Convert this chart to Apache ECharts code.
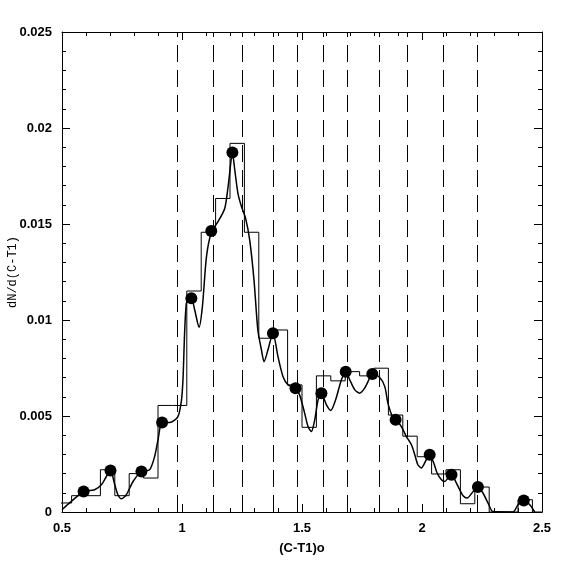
<!DOCTYPE html>
<html>
<head>
<meta charset="utf-8">
<script src="https://cdn.jsdelivr.net/npm/echarts@6/dist/echarts.min.js"></script>
<style>
  html, body { margin: 0; padding: 0; background: #fff; }
  #chart { width: 574px; height: 574px; }
</style>
</head>
<body>
<div id="chart"></div>
<script>
  // histogram: left edge of each 0.06 bin and its height
  var binStarts = [0.48, 0.54, 0.60, 0.66, 0.72, 0.78, 0.84, 0.90, 0.96, 1.02,
    1.08, 1.14, 1.20, 1.26, 1.32, 1.38, 1.44, 1.50, 1.56, 1.62,
    1.68, 1.74, 1.80, 1.86, 1.92, 1.98, 2.04, 2.10, 2.16, 2.22,
    2.28, 2.34, 2.40, 2.46]
  var binHeights = [0.00047, 0.00085, 0.00085, 0.0022, 0.00085, 0.0020, 0.00177, 0.00555, 0.00555, 0.01151,
    0.01457, 0.01633, 0.0192, 0.01457, 0.00905, 0.00948, 0.00662, 0.00441, 0.00709, 0.00683,
    0.00731, 0.00709, 0.00749, 0.00505, 0.00395, 0.00288, 0.00198, 0.0022, 0.00043, 0.0013,
    0, 0, 0.00064, 0]

  // smooth density curve
  var curveX = [0.5, 0.539, 0.590, 0.636, 0.664, 0.685, 0.702, 0.720, 0.733, 0.748,
    0.768, 0.796, 0.831, 0.865, 0.886, 0.900, 0.917, 0.949, 0.983, 0.998,
    1.004, 1.018, 1.039, 1.053, 1.071, 1.085, 1.102, 1.123, 1.150, 1.178,
    1.192, 1.203, 1.210, 1.220, 1.233, 1.248, 1.265, 1.282, 1.300, 1.316,
    1.331, 1.342, 1.358, 1.379, 1.400, 1.421, 1.442, 1.473, 1.490, 1.511,
    1.525, 1.539, 1.553, 1.567, 1.581, 1.602, 1.620, 1.640, 1.664, 1.682,
    1.699, 1.720, 1.740, 1.761, 1.782, 1.793, 1.824, 1.845, 1.858, 1.877,
    1.892, 1.914, 1.935, 1.956, 1.970, 1.983, 1.997, 2.018, 2.032, 2.049,
    2.063, 2.081, 2.095, 2.108, 2.123, 2.143, 2.157, 2.171, 2.188, 2.213,
    2.233, 2.254, 2.275, 2.296, 2.379, 2.400, 2.424, 2.449, 2.470]
  var curveY = [0.00012, 0.00055, 0.00107, 0.00116, 0.00142, 0.00185, 0.00216, 0.00142, 0.0009, 0.00069,
    0.0009, 0.00159, 0.00211, 0.0022, 0.00289, 0.00376, 0.00466, 0.00466, 0.00497, 0.00584,
    0.00688, 0.01087, 0.01113, 0.01052, 0.00962, 0.0107, 0.0133, 0.0146, 0.01512, 0.01581,
    0.01694, 0.01816, 0.01873, 0.01781, 0.0166, 0.0159, 0.01529, 0.01417, 0.01208, 0.00948,
    0.00844, 0.00783, 0.00844, 0.00931, 0.00809, 0.00705, 0.00662, 0.00645, 0.0061, 0.00515,
    0.00445, 0.00419, 0.0048, 0.00584, 0.00619, 0.00558, 0.00529, 0.00584, 0.00688, 0.00731,
    0.00688, 0.00636, 0.00619, 0.00645, 0.00697, 0.00719, 0.00701, 0.00653, 0.00567, 0.00497,
    0.0048, 0.00445, 0.00393, 0.0035, 0.00298, 0.00246, 0.00229, 0.00272, 0.00298, 0.00255,
    0.00203, 0.00168, 0.00159, 0.00177, 0.00194, 0.00152, 0.00116, 0.00085, 0.00073, 0.00107,
    0.0013, 0.00099, 0.00047, 0.00002, 0, 0.00038, 0.0006, 0.00038, 0]

  // filled dots
  var dotX = [0.590, 0.702, 0.831, 0.917, 1.039, 1.122, 1.210, 1.379, 1.473, 1.581,
    1.682, 1.793, 1.890, 2.032, 2.123, 2.233, 2.424]
  var dotY = [0.00107, 0.00216, 0.00211, 0.00466, 0.01113, 0.01463, 0.01873, 0.00931, 0.00645, 0.00619,
    0.00731, 0.00719, 0.0048, 0.00298, 0.00194, 0.0013, 0.0006]

  // dashed vertical lines
  var dashX = [0.983, 1.125, 1.254, 1.383, 1.484, 1.5875, 1.692, 1.821, 1.938, 2.092, 2.233]

  var xTicks = [0.5, 2.5]
  var yTicks = [0, 0.025]

  var histData = binStarts.map(function (x, i) { return [x, binHeights[i]] })
  histData.push([binStarts[binStarts.length - 1] + 0.06, 0])
  var curveData = curveX.map(function (x, i) { return [x, curveY[i]] })
  var dotData = dotX.map(function (x, i) { return [x, dotY[i]] })

  var chart = echarts.init(document.getElementById('chart'))

  var labelFont = { color: '#000', fontSize: 13, fontFamily: 'Liberation Sans, Arial, sans-serif', fontWeight: 'bold' }

  function xAxisOf(pos, showLabel) {
    return {
      type: 'value', position: pos, min: xTicks[0], max: xTicks[1], interval: 0.5,
      axisLine: { show: true, onZero: false, lineStyle: { color: '#000', width: 1 } },
      axisTick: { show: true, inside: true, length: 8, lineStyle: { color: '#000' } },
      minorTick: { show: true, splitNumber: 5, length: 4, lineStyle: { color: '#000' } },
      splitLine: { show: false },
      axisLabel: Object.assign({ show: showLabel, margin: 10 }, labelFont),
      name: showLabel ? '(C-T1)o' : '',
      nameLocation: 'middle', nameGap: 30, nameMoveOverlap: false,
      nameTextStyle: { color: '#000', fontSize: 13, fontFamily: 'Liberation Sans, Arial, sans-serif', fontWeight: 'bold' }
    }
  }
  function yAxisOf(pos, showLabel) {
    return {
      type: 'value', position: pos, min: yTicks[0], max: yTicks[1], interval: 0.005,
      axisLine: { show: true, onZero: false, lineStyle: { color: '#000', width: 1 } },
      axisTick: { show: true, inside: true, length: 8, lineStyle: { color: '#000' } },
      minorTick: { show: true, splitNumber: 5, length: 4, lineStyle: { color: '#000' } },
      splitLine: { show: false },
      axisLabel: Object.assign({ show: showLabel, margin: 10 }, labelFont),
      name: showLabel ? 'dN/d(C-T1)' : '',
      nameLocation: 'middle', nameGap: 43, nameRotate: 90, nameMoveOverlap: false,
      nameTextStyle: { color: '#000', fontSize: 12, fontFamily: 'Liberation Mono, Courier New, monospace' }
    }
  }

  chart.setOption({
    backgroundColor: '#fff',
    animation: false,
    grid: { left: 62, top: 32, width: 480, height: 480, containLabel: false, outerBoundsMode: 'none' },
    xAxis: [xAxisOf('bottom', true), xAxisOf('top', false)],
    yAxis: [yAxisOf('left', true), yAxisOf('right', false)],
    series: [
      {
        name: 'histogram', type: 'line', step: 'end', data: histData,
        symbol: 'none', clip: true,
        lineStyle: { color: '#000', width: 1 },
        markLine: {
          silent: true, symbol: ['none', 'none'], label: { show: false },
          lineStyle: { color: '#000', width: 1, type: [17, 8] },
          data: dashX.map(function (x) { return { xAxis: x } })
        }
      },
      {
        name: 'density', type: 'line', data: curveData, smooth: 0.25,
        symbol: 'none', clip: true,
        lineStyle: { color: '#000', width: 1.5 }
      },
      {
        name: 'points', type: 'scatter', data: dotData,
        symbol: 'circle', symbolSize: 12,
        itemStyle: { color: '#000', opacity: 1 }
      }
    ]
  })
</script>
</body>
</html>
